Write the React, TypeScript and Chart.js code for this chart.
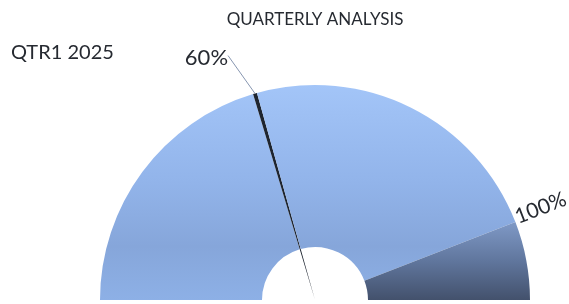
import React, { useEffect, useRef } from 'react';
import { Chart, registerables } from 'chart.js';

Chart.register(...registerables);

// ---- data ----
const chartTitle = 'QUARTERLY ANALYSIS';
const periodLabel = 'QTR1 2025';
const bandNames = ['Target', 'Over target'];
const bandShares = [88.2, 11.8]; // share of the half dial (%)
const bandLabels = ['100%', ''];
const needleShare = 41.0; // needle position along the half dial (%)
const needleWidth = 0.6; // needle slice width (% of half dial)
const needleLabel = '60%';

const LIGHT_STOPS: [number, string][] = [
  [0, '#a3c5f8'],
  [0.45, '#92b4ea'],
  [0.75, '#86a6da'],
  [1, '#8db0e6'],
];
const DARK_STOPS: [number, string][] = [
  [0, '#7f99c6'],
  [0.5, '#60769d'],
  [1, '#43516c'],
];
const NEEDLE_COLOR = '#1e2530';
const TEXT_COLOR = '#262a31';
const FONT = 'Lato, "Open Sans", sans-serif';

function makeGradient(chart: any, y0: number, y1: number, stops: [number, string][]) {
  const g = chart.ctx.createLinearGradient(0, y0, 0, y1);
  stops.forEach(([o, c]) => g.addColorStop(o, c));
  return g;
}

const textPlugin = {
  id: 'gaugeText',
  afterDatasetsDraw(chart: any) {
    const ctx = chart.ctx;
    const meta = chart.getDatasetMeta(0);
    const needle = meta.data[1];
    const dark = meta.data[3];
    if (!needle || !dark) return;
    const { x, y, startAngle, endAngle, outerRadius } = needle.getProps(
      ['x', 'y', 'startAngle', 'endAngle', 'outerRadius'],
      true
    );
    const a = (startAngle + endAngle) / 2;
    const px = x + outerRadius * Math.cos(a);
    const py = y + outerRadius * Math.sin(a);
    const lx = px - 27;
    const ly = py - 38;
    ctx.save();
    // leader line
    ctx.strokeStyle = '#8796b0';
    ctx.lineWidth = 1;
    ctx.beginPath();
    ctx.moveTo(lx, ly);
    ctx.lineTo(px, py);
    ctx.stroke();
    // needle label
    ctx.fillStyle = TEXT_COLOR;
    ctx.font = `22px ${FONT}`;
    ctx.textAlign = 'right';
    ctx.textBaseline = 'alphabetic';
    ctx.fillText(needleLabel, lx, ly + 9);
    // band label
    const dp = dark.getProps(['x', 'y', 'startAngle', 'outerRadius'], true);
    ctx.translate(dp.x, dp.y);
    ctx.rotate(dp.startAngle);
    ctx.textAlign = 'left';
    ctx.textBaseline = 'middle';
    ctx.font = `21px ${FONT}`;
    ctx.fillText(bandLabels[0], dp.outerRadius + 2, -4);
    ctx.restore();
    // period label
    ctx.save();
    ctx.fillStyle = TEXT_COLOR;
    ctx.font = `20px ${FONT}`;
    ctx.textAlign = 'left';
    ctx.textBaseline = 'alphabetic';
    ctx.fillText(periodLabel, 11, 59);
    ctx.restore();
  },
};

export default function App() {
  const ref = useRef<HTMLCanvasElement | null>(null);
  useEffect(() => {
    document.body.style.margin = '0';
    const canvas = ref.current;
    if (!canvas) return;
    const w = needleWidth;
    const lightFill = (c: any) => {
      const ca = c.chart.chartArea;
      if (!ca) return LIGHT_STOPS[0][1];
      return makeGradient(c.chart, ca.top, ca.bottom, LIGHT_STOPS);
    };
    const darkFill = (c: any) => {
      const ca = c.chart.chartArea;
      if (!ca) return DARK_STOPS[0][1];
      const h = ca.bottom - ca.top;
      const y0 = ca.bottom - h * Math.sin((Math.PI * bandShares[1]) / 100);
      return makeGradient(c.chart, y0, ca.bottom, DARK_STOPS);
    };
    const chart = new Chart(canvas, {
      type: 'doughnut',
      data: {
        labels: [bandNames[0], 'Needle', bandNames[0], bandNames[1]],
        datasets: [
          {
            label: 'Dial',
            data: [
              needleShare - w / 2,
              w,
              bandShares[0] - needleShare - w / 2,
              bandShares[1],
            ],
            backgroundColor: (c: any) =>
              c.dataIndex === 1 ? NEEDLE_COLOR : c.dataIndex === 3 ? darkFill(c) : lightFill(c),
            borderWidth: 0,
            weight: 162,
          } as any,
          {
            label: 'Needle',
            data: [needleShare - w / 2, w, 100 - needleShare - w / 2],
            backgroundColor: ['rgba(0,0,0,0)', NEEDLE_COLOR, 'rgba(0,0,0,0)'],
            borderWidth: 0,
            weight: 53,
          } as any,
        ],
      },
      options: {
        responsive: false,
        animation: false,
        events: [],
        rotation: -90,
        circumference: 180,
        cutout: 0,
        layout: { padding: { left: 100, right: 39, top: 0, bottom: 4 } },
        plugins: {
          legend: { display: false },
          tooltip: { enabled: false },
          title: {
            display: true,
            text: chartTitle,
            color: TEXT_COLOR,
            font: { family: FONT, size: 17, weight: 'normal', lineHeight: 1.2 },
            padding: { top: 9, bottom: 85 - 9 - 20.4 },
          },
        },
      } as any,
      plugins: [textPlugin],
    });
    return () => chart.destroy();
  }, []);
  return (
    <div style={{ width: 569, height: 304 }}>
      <canvas ref={ref} width={569} height={304} />
    </div>
  );
}
